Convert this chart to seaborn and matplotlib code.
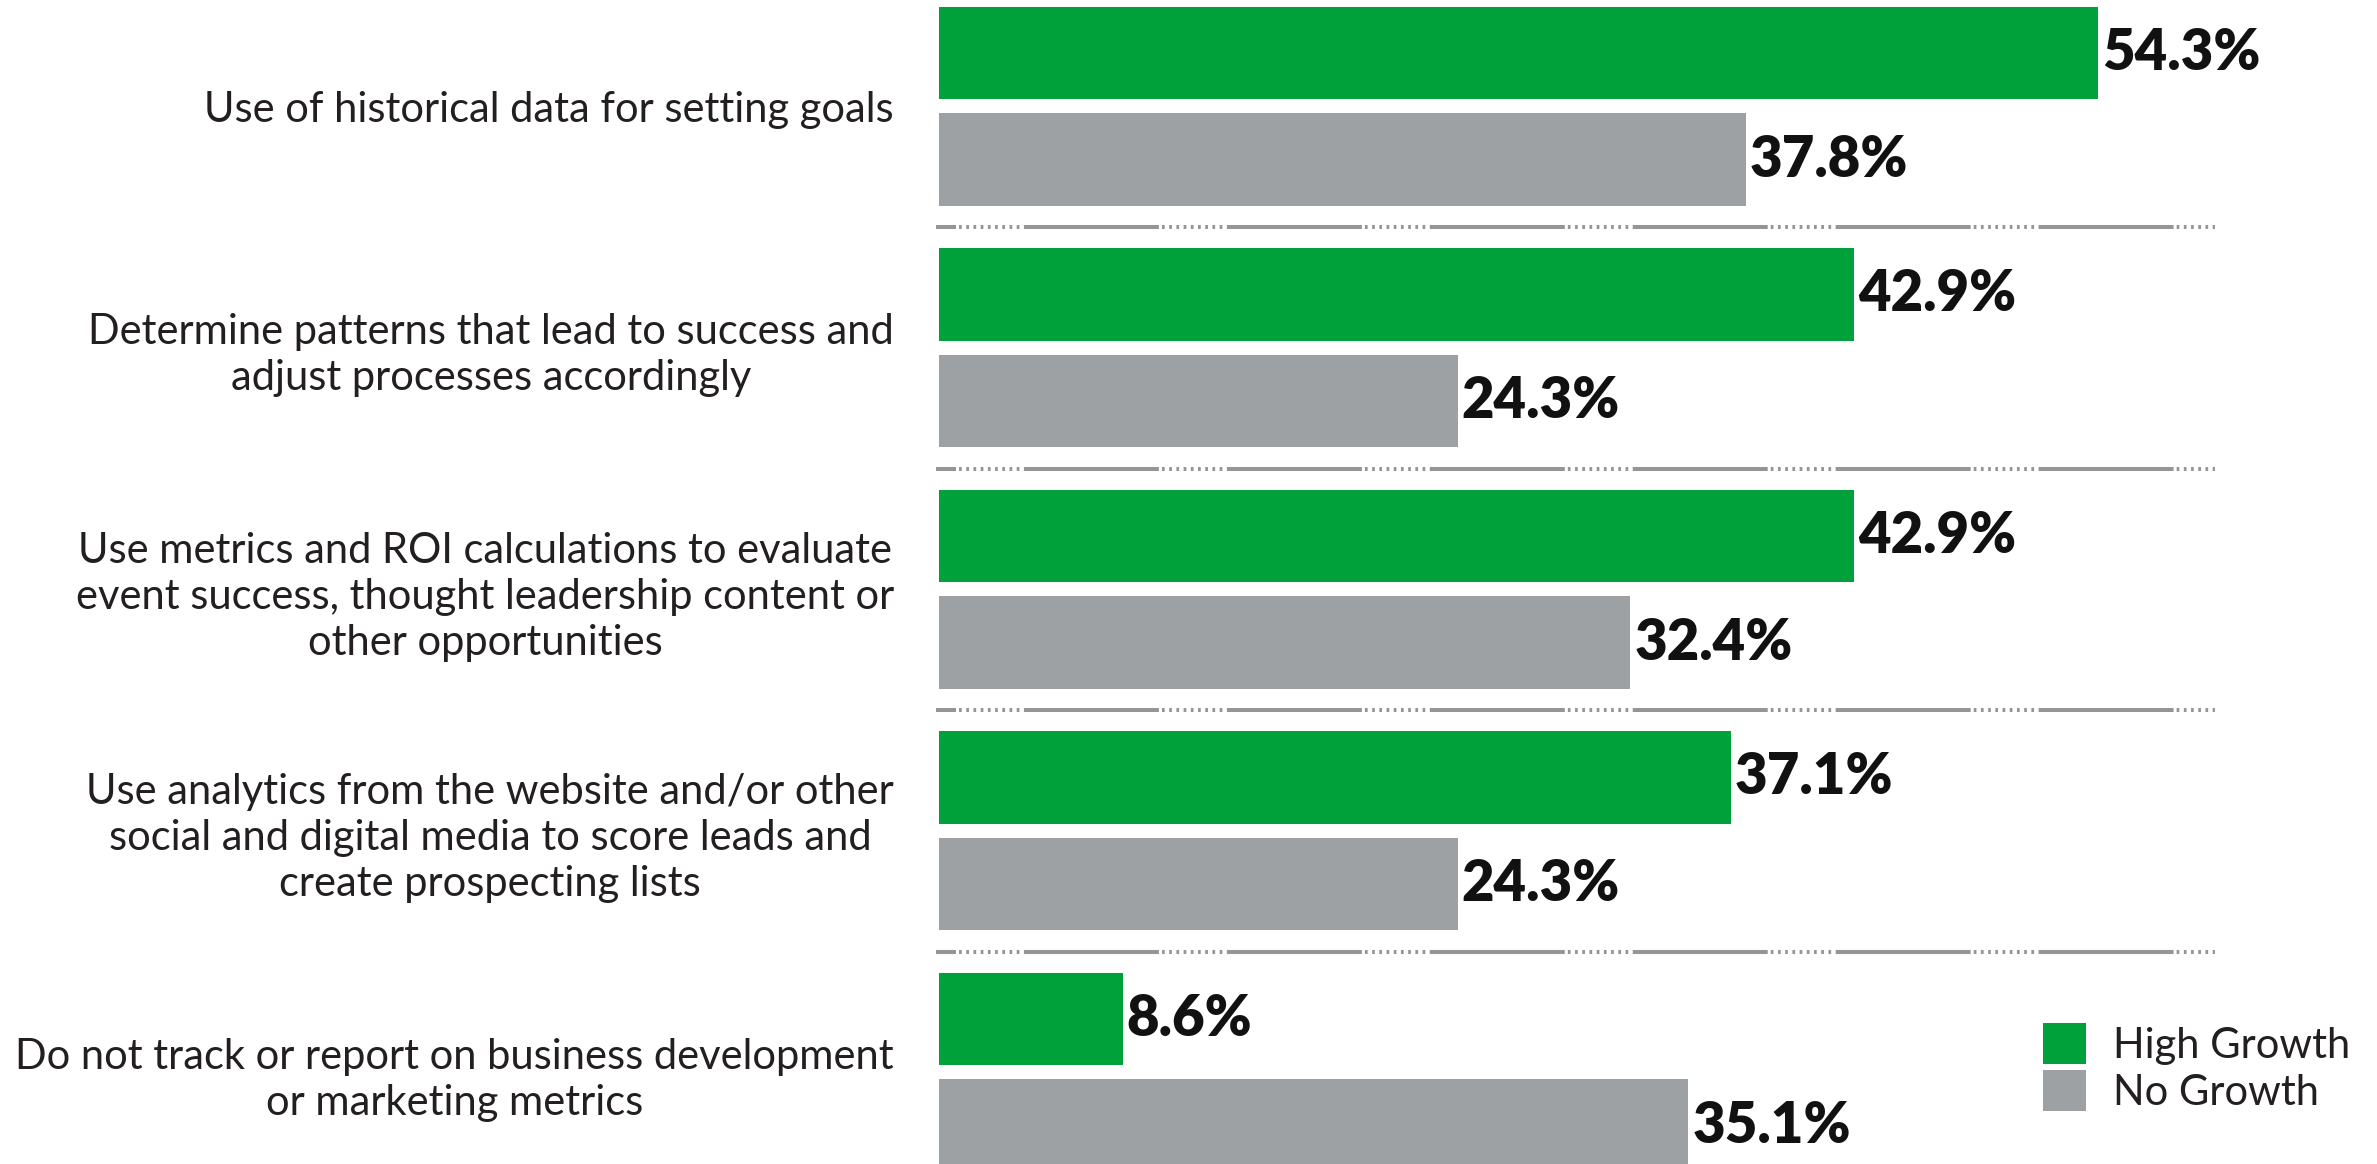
import matplotlib
matplotlib.use("Agg")
import matplotlib.pyplot as plt
import seaborn as sns
import pandas as pd

categories = [
    "Use of historical data for setting goals",
    "Determine patterns that lead to success and\nadjust processes accordingly",
    "Use metrics and ROI calculations to evaluate\nevent success, thought leadership content or\nother opportunities",
    "Use analytics from the website and/or other\nsocial and digital media to score leads and\ncreate prospecting lists",
    "Do not track or report on business development\nor marketing metrics",
]
series_names = ["High Growth", "No Growth"]
high_growth = [54.3, 42.9, 42.9, 37.1, 8.6]
no_growth = [37.8, 24.3, 32.4, 24.3, 35.1]

GREEN = "#00a13b"
GRAY = "#9ea1a4"
SEP = "#959595"
TXT = "#231f20"

sns.set_theme(style="white")
plt.rcParams["font.family"] = ["Lato", "DejaVu Sans"]
plt.rcParams["lines.scale_dashes"] = False

rows = []
for c, h, n in zip(categories, high_growth, no_growth):
    rows.append({"category": c, "group": series_names[0], "value": h})
    rows.append({"category": c, "group": series_names[1], "value": n})
df = pd.DataFrame(rows)

W, H = 2377, 1164
fig = plt.figure(figsize=(W / 100, H / 100), dpi=100)
x0 = 939
ppu = 21.34
ax = fig.add_axes([x0 / W, 0, 1 - x0 / W, 1])

sns.barplot(data=df, y="category", x="value", hue="group", orient="h",
            palette=[GREEN, GRAY], saturation=1, width=0.882, gap=0.131,
            linewidth=0, order=categories, hue_order=series_names, ax=ax)

ax.set_xlim(0, (W - x0) / ppu)
y_c0 = 106.25
grp = 241.5
ax.set_ylim((H - y_c0) / grp, (0 - y_c0) / grp)

for cont in ax.containers:
    ax.bar_label(cont, labels=[f"{v:.1f}%" for v in cont.datavalues],
                 padding=3.0, fontsize=40.5, fontweight="heavy", color="#111111")

# dotted separators between groups
pattern = [97.2, 2.2] + [1.95, 3.24] * 9
seps = [i + 0.5 for i in range(len(categories) - 1)]
ax.hlines(seps, -0.14, 59.8, colors=SEP, linewidth=2.9,
          linestyles=[(82.8, pattern)], clip_on=False)

for s in ax.spines.values():
    s.set_visible(False)
ax.set_xticks([])
ax.set_xlabel("")
ax.set_ylabel("")
ax.tick_params(axis="y", length=0, pad=32.4)
for lab in ax.get_yticklabels():
    lab.set_fontsize(30)
    lab.set_fontweight("normal")
    lab.set_color(TXT)
    lab.set_multialignment("center")
    lab.set_linespacing(1.26)

leg = ax.legend(loc="upper left", bbox_to_anchor=(2043 / W, 1 - 1023 / H),
                bbox_transform=fig.transFigure, frameon=False, fontsize=30,
                handlelength=1.03, handleheight=1.15, labelspacing=0.12,
                handletextpad=0.65, borderpad=0, borderaxespad=0)
for t in leg.get_texts():
    t.set_fontweight("normal")
    t.set_color(TXT)

fig.savefig("out.png", dpi=100)
